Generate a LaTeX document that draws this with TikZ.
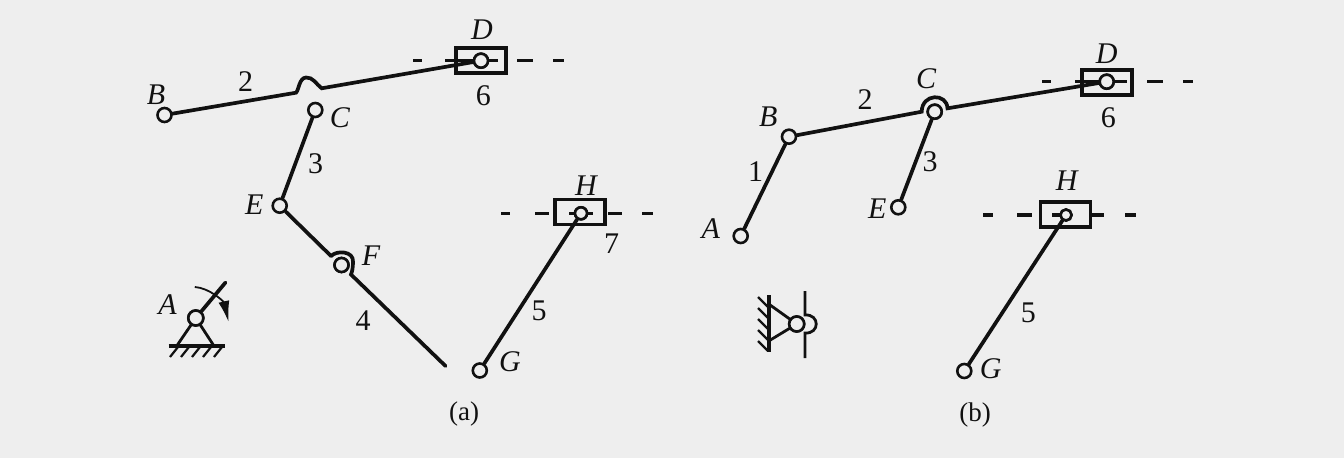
\documentclass[tikz,border=0pt]{standalone}
\usepackage{fontspec}
\setmainfont{Liberation Serif}
\usetikzlibrary{arrows.meta}
\definecolor{paper}{HTML}{EEEEEE}
\definecolor{ink}{HTML}{111111}
\tikzset{
  link/.style={ink,line width=3.7pt,line cap=round},
  thinlink/.style={ink,line width=2.8pt,line cap=round},
  guide/.style={ink,line width=3.2pt},
  pivot/.style={circle,draw=ink,fill=paper,line width=2.6pt,inner sep=0pt,minimum size=14pt},
  slider/.style={rectangle,draw=ink,line width=3.4pt,inner sep=0pt,minimum width=50pt,minimum height=25pt},
  letter/.style={text=ink,font=\fontsize{30}{30}\selectfont\itshape,inner sep=0pt},
  number/.style={text=ink,font=\fontsize{30}{30}\selectfont,inner sep=0pt},
  caption/.style={text=ink,font=\fontsize{27}{27}\selectfont,inner sep=0pt}
}
\begin{document}
\begin{tikzpicture}[x=1pt,y=-1pt]
\fill[paper] (0,0) rectangle (1344,458);

% Guides of the sliders
\foreach \a/\b in {413/422,445/460,460/498,517/533,553/564}
  \draw[guide] (\a,60.5) -- (\b,60.5);
\foreach \a/\b in {501/510,535/549,569/593,608/622,642/653}
  \draw[guide] (\a,213.5) -- (\b,213.5);
\foreach \a/\b in {1042/1051,1075/1090,1090/1127,1147/1163,1183/1193}
  \draw[guide] (\a,81.7) -- (\b,81.7);
\foreach \a/\b in {983/993,1017/1032,1052/1066,1092/1104,1125/1136}
  \draw[guide] (\a,215) -- (\b,215);

% Sliders
\node[slider] (boxDa) at (481,60.5) {};
\node[slider] (boxHa) at (580,212) {};
\node[slider] (boxDb) at (1107,82.5) {};
\node[slider] (boxHb) at (1065.5,214.5) {};

% Joints of (a)
\node[pivot] (Ba) at (164.5,115) {};
\node[pivot] (Ca) at (315.3,110) {};
\node[pivot] (Da) at (481,60.7) {};
\node[pivot] (Ea) at (279.7,205.7) {};
\node[pivot] (Fa) at (341.5,265) {};
\node[pivot] (Ga) at (479.8,370.5) {};
\node[pivot,minimum size=12pt] (Ha) at (581,213.3) {};
\node[pivot,minimum size=15pt] (Aa) at (195.8,318) {};
\coordinate (bumpLa) at (296,92.7);
\coordinate (bumpRa) at (321.7,88.3);
\coordinate (endFa) at (331,256);
\coordinate (startFa) at (351,274.5);
\coordinate (endfour) at (445.5,366);
\coordinate (crank) at (225.5,282.5);
\coordinate (footLa) at (177,345.5);
\coordinate (footRa) at (213.7,345.5);
\coordinate (groundL) at (168.7,345.7);
\coordinate (groundR) at (224.5,345.7);
\coordinate (turnS) at (194.8,287);
\coordinate (turnT) at (228.6,322);

% Links of (a)
\draw[link] (Ba) -- (bumpLa) .. controls (299,90) and (299,78) .. (306,77.5) .. controls (313,77) and (316,84) .. (bumpRa) -- (Da);
\draw[link] (Ca) -- (Ea);
\draw[link] (Ea) -- (endFa);
\draw[link] (endFa) .. controls (337,250) and (354,251) .. (353,262) .. controls (353,268) and (352,272) .. (startFa) -- (endfour);
\draw[link] (Ga) -- (Ha);

% Frame and crank at A
\draw[link] (Aa) -- (crank);
\draw[thinlink] (Aa) -- (footLa);
\draw[thinlink] (Aa) -- (footRa);
\draw[link,line cap=butt] (groundL) -- (groundR);
\foreach \x in {178,189,200,211,222}
  \draw[ink,line width=2.2pt] (\x,347) -- (\x-8,357);
\draw[ink,line width=1.8pt,-{Latex[length=21pt,width=11pt]}] (turnS) .. controls (210,288) and (224,302) .. (turnT);
\node[pivot,minimum size=15pt] at (Aa) {};
\node[pivot] at (Fa) {};
\node[pivot] at (Da) {};
\node[pivot,minimum size=12pt] at (Ha) {};

% Labels of (a)
\node[letter] (labAa) at (167.5,305) {A};
\node[letter] (labBa) at (156,94.5) {B};
\node[letter] (labCa) at (340,118) {C};
\node[letter] (labDa) at (482,30) {D};
\node[letter] (labEa) at (254.3,205) {E};
\node[letter] (labFa) at (371,256) {F};
\node[letter] (labGa) at (510,362) {G};
\node[letter] (labHa) at (586,186) {H};
\node[number] (twoa) at (245.7,81.7) {2};
\node[number] (threea) at (315.7,163.3) {3};
\node[number] (foura) at (363,320.7) {4};
\node[number] (fivea) at (539,310.7) {5};
\node[number] (sixa) at (483.3,96) {6};
\node[number] (sevena) at (611.6,244) {7};
\node[caption] (capa) at (464,414) {(a)};

% Joints of (b)
\node[pivot] (Ab) at (740.7,236) {};
\node[pivot] (Bb) at (789,136.7) {};
\node[pivot] (Cb) at (934.7,111.7) {};
\node[pivot] (Db) at (1106.7,81.7) {};
\node[pivot] (Eb) at (898.3,207.3) {};
\node[pivot] (Gb) at (964.3,371) {};
\node[pivot,minimum size=11pt] (Hb) at (1066,215) {};
\node[pivot,minimum size=15pt] (Sb) at (796.7,324) {};
\coordinate (bumpLb) at (921.7,111.7);
\coordinate (bumpRb) at (947.5,108.3);
\coordinate (wallT) at (768.7,295);
\coordinate (wallB) at (768.7,351.5);
\coordinate (footTb) at (768.7,304);
\coordinate (footBb) at (768.7,341);
\coordinate (slideT) at (805,291);
\coordinate (slideU) at (805,315);
\coordinate (slideL) at (805,333);
\coordinate (slideB) at (805,358);

% Links of (b)
\draw[link] (Ab) -- (Bb);
\draw[link] (Bb) -- (bumpLb) .. controls (922,93) and (947,93) .. (bumpRb) -- (Db);
\draw[link] (Cb) -- (Eb);
\draw[link] (Gb) -- (Hb);
\node[pivot] at (Cb) {};
\node[pivot] at (Db) {};
\node[pivot,minimum size=11pt] at (Hb) {};

% Frame at A, seen from the side
\draw[link,line cap=butt] (wallT) -- (wallB);
\draw[thinlink] (Sb) -- (footTb);
\draw[thinlink] (Sb) -- (footBb);
\foreach \y in {307,318,329,340,351}
  \draw[ink,line width=2.2pt] (768,\y) -- (758,\y-10);
\draw[ink,line width=2.8pt] (slideT) -- (slideU) .. controls (820,314) and (820,334) .. (slideL) -- (slideB);
\node[pivot,minimum size=15pt] at (Sb) {};

% Labels of (b)
\node[letter] (labAb) at (710.7,229) {A};
\node[letter] (labBb) at (768.3,117) {B};
\node[letter] (labCb) at (926,79) {C};
\node[letter] (labDb) at (1106.7,53.3) {D};
\node[letter] (labEb) at (877.3,208.3) {E};
\node[letter] (labGb) at (990.7,369) {G};
\node[letter] (labHb) at (1066.7,181) {H};
\node[number] (oneb) at (755.7,171.7) {1};
\node[number] (twob) at (865,100) {2};
\node[number] (threeb) at (930,161.7) {3};
\node[number] (fiveb) at (1028.3,312.7) {5};
\node[number] (sixb) at (1108.3,117.7) {6};
\node[caption] (capb) at (975,415) {(b)};
\end{tikzpicture}
\end{document}
